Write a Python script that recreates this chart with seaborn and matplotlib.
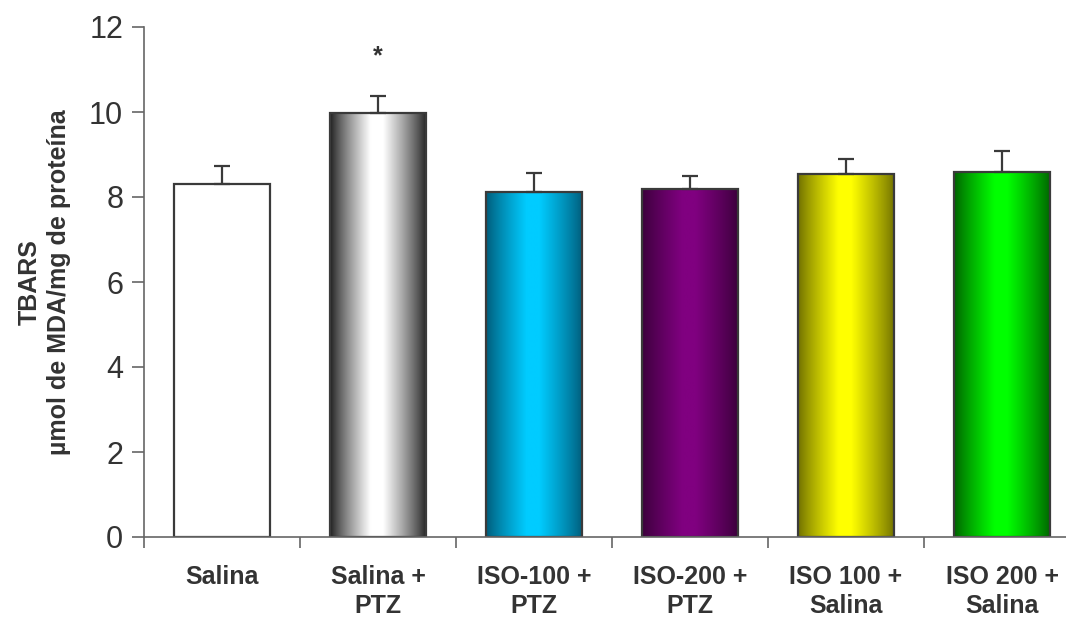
import numpy as np
import pandas as pd
import matplotlib
matplotlib.use("Agg")
import matplotlib.pyplot as plt
import seaborn as sns
from matplotlib.colors import to_rgb

# Group labels, means and SEM of TBARS levels
groups = ["Salina", "Salina +\nPTZ", "ISO-100 +\nPTZ", "ISO-200 +\nPTZ",
          "ISO 100 +\nSalina", "ISO 200 +\nSalina"]
tbars = [8.31, 9.98, 8.12, 8.20, 8.53, 8.60]
sem = [0.41, 0.39, 0.44, 0.30, 0.37, 0.48]
significant = [False, True, False, False, False, False]

# Edge (dark) and centre (bright) colours of each bar's cylinder shading
edge_colors = [None, "#1e1e1e", "#005a78", "#3a003a", "#6e6e00", "#006000"]
center_colors = [None, "#ffffff", "#00ccff", "#800080", "#ffff00", "#00ff00"]

sns.set_theme(style="white")
plt.rcParams["font.family"] = ["Liberation Sans", "DejaVu Sans"]

df = pd.DataFrame({"grupo": groups, "tbars": tbars})

fig = plt.figure(figsize=(10.66, 6.18), dpi=100)
ax = fig.add_axes([144 / 1066, 81 / 618, 936 / 1066, 510 / 618])

sns.barplot(data=df, x="grupo", y="tbars", color="white", width=0.62,
            edgecolor="#3a3a3a", linewidth=1.6, saturation=1, ax=ax, zorder=2)

# Cylinder-like horizontal shading clipped to each bar
t = np.linspace(0, 1, 256)
w = np.clip(np.minimum(t / 0.42, (1 - t) / 0.45), 0, 1) ** 0.85
for patch, c0, c1 in zip(ax.patches, edge_colors, center_colors):
    if c0 is None:
        continue
    patch.set_facecolor("none")
    a, b = np.array(to_rgb(c0)), np.array(to_rgb(c1))
    img = (a[None, :] * (1 - w[:, None]) + b[None, :] * w[:, None])[None, :, :]
    x0, y0 = patch.get_x(), patch.get_y()
    x1, y1 = x0 + patch.get_width(), y0 + patch.get_height()
    im = ax.imshow(img, extent=[x0, x1, y0, y1], aspect="auto",
                   interpolation="bilinear", zorder=1.5)
    im.set_clip_path(patch)

x = np.arange(len(groups))
ax.errorbar(x, tbars, yerr=[np.zeros(len(sem)), sem], fmt="none",
            ecolor="#3a3a3a", elinewidth=1.6, capsize=6, capthick=1.6, zorder=3)

for xi, v, e, s in zip(x, tbars, sem, significant):
    if s:
        ax.text(xi, v + e + 0.95, "*", ha="center", va="center",
                fontsize=18, fontweight="bold", color="#333333")

ax.set_xlim(-0.5, 5.5)
ax.set_ylim(0, 12)
ax.set_yticks([0, 2, 4, 6, 8, 10, 12])
ax.tick_params(axis="y", labelsize=22, colors="#333333", length=9,
               width=1.2, direction="out", left=True, pad=6, color="#666666")
ax.set_xticks(x)
ax.set_xticklabels(groups, fontsize=18, fontweight="bold", color="#333333",
                   linespacing=1.25)
ax.tick_params(axis="x", length=0, pad=20)
ax.set_xticks(np.arange(-0.5, 5.5, 1.0), minor=True)
ax.tick_params(axis="x", which="minor", length=8, width=1.2,
               color="#666666", direction="out", bottom=True)

ax.set_xlabel("")
ax.set_ylabel("TBARS\nµmol de MDA/mg de proteína", fontsize=18,
              fontweight="bold", color="#333333", linespacing=1.3, labelpad=13)

for side in ["top", "right"]:
    ax.spines[side].set_visible(False)
for side in ["left", "bottom"]:
    ax.spines[side].set_color("#666666")
    ax.spines[side].set_linewidth(1.2)

fig.savefig("out.png", dpi=100)
